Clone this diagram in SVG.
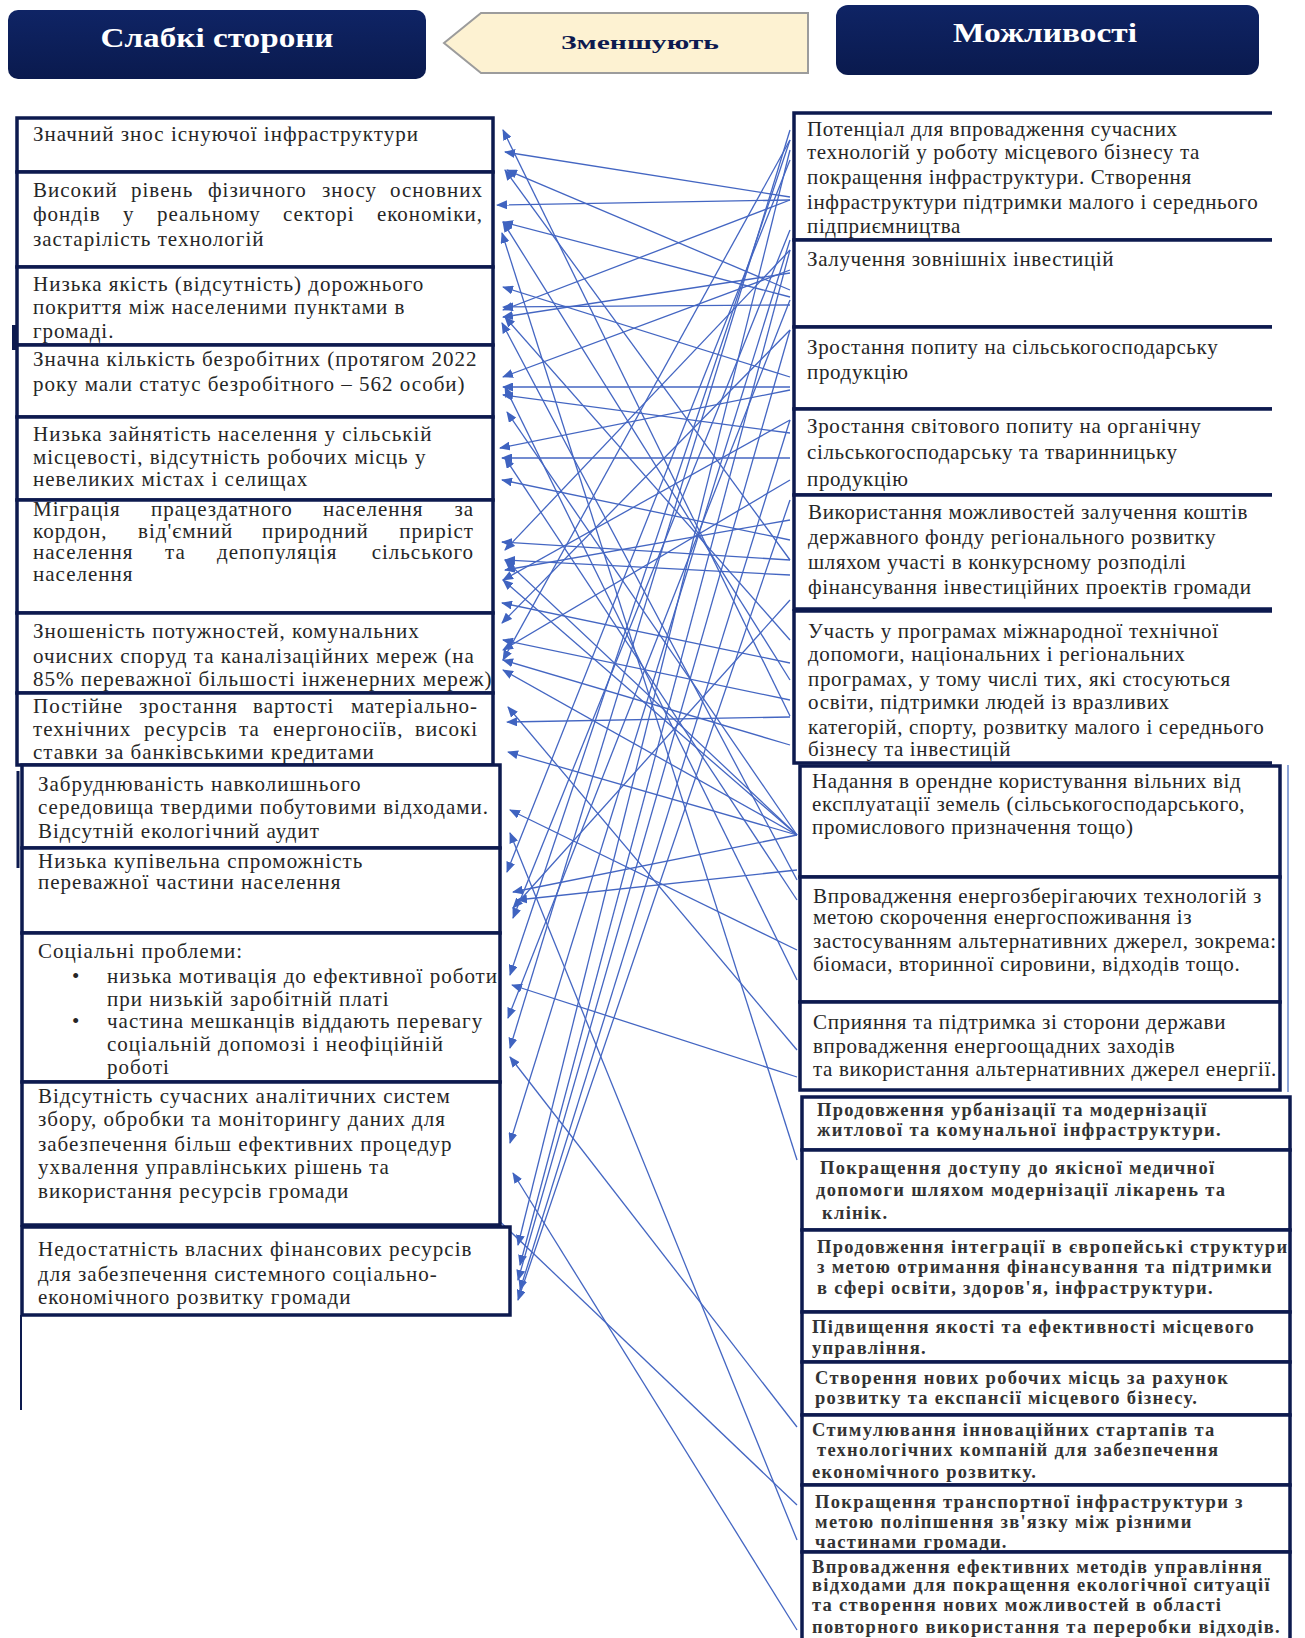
<svg xmlns="http://www.w3.org/2000/svg" width="1305" height="1638" viewBox="0 0 1305 1638">
<defs>
<marker id="ah" markerWidth="11" markerHeight="9" refX="10" refY="4.5" orient="auto" markerUnits="userSpaceOnUse">
<path d="M0,0 L11,4.5 L0,9 z" fill="#3f63c0"/>
</marker>
<linearGradient id="hdr" x1="0" y1="0" x2="0" y2="1">
<stop offset="0" stop-color="#0f2465"/>
<stop offset="1" stop-color="#0a1a4e"/>
</linearGradient>
</defs>
<style>
.t{font-family:"Liberation Serif","Times New Roman",serif;font-size:21px;fill:#262626;letter-spacing:1px}
.r{font-family:"Liberation Serif","Times New Roman",serif;font-size:21px;fill:#262626;letter-spacing:0.65px}
.s{font-family:"Liberation Serif","Times New Roman",serif;font-size:18.5px;font-weight:bold;fill:#333;letter-spacing:1.3px}
.box{fill:#fff;stroke:#0d1a4f;stroke-width:3.5}
.hd{font-family:"Liberation Serif","Times New Roman",serif;font-weight:bold;fill:#fff;font-size:27px}
.conn line{stroke:#4466c2;stroke-width:1.3;marker-end:url(#ah)}
</style>
<rect width="1305" height="1638" fill="#fff"/>

<g id="hdr-weak">
<rect x="8" y="10" width="418" height="69" rx="10" fill="url(#hdr)"/>
<text class="hd" x="217" y="47" text-anchor="middle" textLength="233" lengthAdjust="spacingAndGlyphs">Слабкі сторони</text>
</g>
<g id="hdr-reduce">
<path d="M444,43 L481,13 H808 V73 H481 Z" fill="#fdf2d2" stroke="#9c9c9c" stroke-width="2"/>
<text x="640" y="49" text-anchor="middle" font-family="Liberation Serif, serif" font-weight="bold" font-size="19" fill="#0d1a4f" textLength="158" lengthAdjust="spacingAndGlyphs">Зменшують</text>
</g>
<g id="hdr-opp">
<rect x="836" y="5" width="423" height="70" rx="12" fill="url(#hdr)"/>
<text class="hd" x="1045" y="42" text-anchor="middle" textLength="184" lengthAdjust="spacingAndGlyphs">Можливості</text>
</g>

<g id="connectors" class="conn">
<line x1="790" y1="197" x2="505" y2="152"/>
<line x1="790" y1="290" x2="507" y2="170"/>
<line x1="790" y1="200" x2="497" y2="205"/>
<line x1="790" y1="297" x2="503" y2="222"/>
<line x1="797" y1="1160" x2="502" y2="233"/>
<line x1="790" y1="377" x2="503" y2="287"/>
<line x1="790" y1="200" x2="503" y2="310"/>
<line x1="790" y1="305" x2="503" y2="307"/>
<line x1="790" y1="273" x2="503" y2="317"/>
<line x1="797" y1="880" x2="502" y2="323"/>
<line x1="790" y1="270" x2="503" y2="377"/>
<line x1="790" y1="387" x2="503" y2="387"/>
<line x1="790" y1="433" x2="503" y2="395"/>
<line x1="797" y1="835" x2="507" y2="412"/>
<line x1="790" y1="390" x2="500" y2="448"/>
<line x1="790" y1="458" x2="502" y2="458"/>
<line x1="790" y1="716" x2="503" y2="130"/>
<line x1="790" y1="540" x2="502" y2="480"/>
<line x1="790" y1="560" x2="502" y2="542"/>
<line x1="790" y1="250" x2="505" y2="550"/>
<line x1="790" y1="575" x2="505" y2="560"/>
<line x1="790" y1="520" x2="505" y2="570"/>
<line x1="790" y1="420" x2="503" y2="580"/>
<line x1="790" y1="663" x2="502" y2="603"/>
<line x1="790" y1="330" x2="502" y2="623"/>
<line x1="790" y1="700" x2="503" y2="640"/>
<line x1="790" y1="480" x2="503" y2="650"/>
<line x1="790" y1="140" x2="503" y2="660"/>
<line x1="797" y1="835" x2="503" y2="670"/>
<line x1="797" y1="1050" x2="508" y2="707"/>
<line x1="790" y1="717" x2="507" y2="722"/>
<line x1="797" y1="835" x2="508" y2="752"/>
<line x1="797" y1="950" x2="510" y2="810"/>
<line x1="797" y1="1540" x2="510" y2="833"/>
<line x1="790" y1="160" x2="507" y2="872"/>
<line x1="797" y1="835" x2="513" y2="892"/>
<line x1="797" y1="870" x2="517" y2="900"/>
<line x1="790" y1="600" x2="513" y2="908"/>
<line x1="790" y1="230" x2="513" y2="918"/>
<line x1="790" y1="140" x2="510" y2="975"/>
<line x1="797" y1="1077" x2="512" y2="985"/>
<line x1="790" y1="300" x2="508" y2="1018"/>
<line x1="790" y1="130" x2="510" y2="1048"/>
<line x1="797" y1="1427" x2="510" y2="1057"/>
<line x1="790" y1="240" x2="510" y2="1143"/>
<line x1="797" y1="1630" x2="513" y2="1173"/>
<line x1="797" y1="1505" x2="470" y2="1193"/>
<line x1="790" y1="150" x2="518" y2="1245"/>
<line x1="790" y1="250" x2="520" y2="1265"/>
<line x1="790" y1="330" x2="518" y2="1280"/>
<line x1="790" y1="420" x2="520" y2="1290"/>
<line x1="790" y1="500" x2="518" y2="1300"/>
<line x1="797" y1="835" x2="503" y2="580"/>
<line x1="797" y1="835" x2="505" y2="560"/>
<line x1="797" y1="900" x2="505" y2="458"/>
<line x1="790" y1="640" x2="505" y2="317"/>
<line x1="790" y1="680" x2="503" y2="222"/>
<line x1="797" y1="980" x2="505" y2="387"/>
<line x1="790" y1="560" x2="505" y2="170"/>
<line x1="790" y1="745" x2="503" y2="660"/>
</g>

<g id="w1"><rect class="box" x="17" y="118" width="476" height="54"/>
<text class="t" x="33" y="141">Значний знос існуючої інфраструктури</text></g>
<g id="w2"><rect class="box" x="17" y="172" width="476" height="95"/>
<text class="t" y="197"><tspan x="33">Високий</tspan><tspan x="131">рівень</tspan><tspan x="208">фізичного</tspan><tspan x="322">зносу</tspan><tspan x="483" text-anchor="end">основних</tspan></text>
<text class="t" y="221"><tspan x="33">фондів</tspan><tspan x="123">у</tspan><tspan x="157">реальному</tspan><tspan x="283">секторі</tspan><tspan x="483" text-anchor="end">економіки,</tspan></text>
<text class="t" x="33" y="246">застарілість технологій</text></g>
<g id="w3"><rect class="box" x="17" y="267" width="476" height="78"/>
<text class="t" x="33" y="291">Низька якість (відсутність) дорожнього</text>
<text class="t" x="33" y="314">покриття між населеними пунктами в</text>
<text class="t" x="33" y="338">громаді.</text></g>
<g id="w4"><rect class="box" x="17" y="345" width="476" height="72"/>
<text class="t" x="33" y="366">Значна кількість безробітних (протягом 2022</text>
<text class="t" x="33" y="391">року мали статус безробітного – 562 особи)</text></g>
<g id="w5"><rect class="box" x="17" y="417" width="476" height="83"/>
<text class="t" x="33" y="441">Низька зайнятість населення у сільській</text>
<text class="t" x="33" y="464">місцевості, відсутність робочих місць у</text>
<text class="t" x="33" y="486">невеликих містах і селищах</text></g>
<g id="w6"><rect class="box" x="17" y="500" width="476" height="113"/>
<text class="t" y="516"><tspan x="33">Міграція</tspan><tspan x="151">працездатного</tspan><tspan x="323">населення</tspan><tspan x="474" text-anchor="end">за</tspan></text>
<text class="t" y="538"><tspan x="33">кордон,</tspan><tspan x="138">від'ємний</tspan><tspan x="262">природний</tspan><tspan x="474" text-anchor="end">приріст</tspan></text>
<text class="t" y="559"><tspan x="33">населення</tspan><tspan x="165">та</tspan><tspan x="217">депопуляція</tspan><tspan x="474" text-anchor="end">сільського</tspan></text>
<text class="t" x="33" y="581">населення</text></g>
<g id="w7"><rect class="box" x="17" y="613" width="476" height="80"/>
<text class="t" x="33" y="638">Зношеність потужностей, комунальних</text>
<text class="t" x="33" y="663">очисних споруд та каналізаційних мереж (на</text>
<text class="t" x="33" y="686">85% переважної більшості інженерних мереж)</text></g>
<g id="w8"><rect class="box" x="17" y="693" width="476" height="72"/>
<text class="t" y="713"><tspan x="33">Постійне</tspan><tspan x="139">зростання</tspan><tspan x="253">вартості</tspan><tspan x="478" text-anchor="end">матеріально-</tspan></text>
<text class="t" y="736"><tspan x="33">технічних</tspan><tspan x="144">ресурсів</tspan><tspan x="239">та</tspan><tspan x="273">енергоносіїв,</tspan><tspan x="478" text-anchor="end">високі</tspan></text>
<text class="t" x="33" y="759">ставки за банківськими кредитами</text></g>
<g id="w9"><rect class="box" x="22" y="765" width="478" height="83"/>
<line x1="18" y1="771" x2="18" y2="868" stroke="#0d1a4f" stroke-width="3"/>
<text class="t" x="38" y="791">Забруднюваність навколишнього</text>
<text class="t" x="38" y="814">середовища твердими побутовими відходами.</text>
<text class="t" x="38" y="838">Відсутній екологічний аудит</text></g>
<g id="w10"><rect class="box" x="22" y="848" width="478" height="85"/>
<text class="t" x="38" y="868">Низька купівельна спроможність</text>
<text class="t" x="38" y="889">переважної частини населення</text></g>
<g id="w11"><rect class="box" x="22" y="933" width="478" height="149"/>
<text class="t" x="38" y="958">Соціальні проблеми:</text>
<text class="t" x="72" y="983">•</text>
<text class="t" x="107" y="983">низька мотивація до ефективної роботи</text>
<text class="t" x="107" y="1006">при низькій заробітній платі</text>
<text class="t" x="72" y="1028">•</text>
<text class="t" x="107" y="1028">частина мешканців віддають перевагу</text>
<text class="t" x="107" y="1051">соціальній допомозі і неофіційній</text>
<text class="t" x="107" y="1074">роботі</text></g>
<g id="w12"><rect class="box" x="22" y="1082" width="478" height="143"/>
<text class="t" x="38" y="1103">Відсутність сучасних аналітичних систем</text>
<text class="t" x="38" y="1126">збору, обробки та моніторингу даних для</text>
<text class="t" x="38" y="1151">забезпечення більш ефективних процедур</text>
<text class="t" x="38" y="1174">ухвалення управлінських рішень та</text>
<text class="t" x="38" y="1198">використання ресурсів громади</text></g>
<g id="w13"><rect class="box" x="22" y="1227" width="488" height="88"/>
<text class="t" x="38" y="1256">Недостатність власних  фінансових ресурсів</text>
<text class="t" x="38" y="1281">для забезпечення системного соціально-</text>
<text class="t" x="38" y="1304">економічного розвитку громади</text></g>
<line x1="21" y1="1315" x2="21" y2="1410" stroke="#0d1a4f" stroke-width="2"/>
<line x1="14" y1="325" x2="14" y2="350" stroke="#0d1a4f" stroke-width="4"/>

<g id="o1"><path class="box" d="M1272,113 H794 V240 H1272"/>
<text class="r" x="807" y="136">Потенціал для впровадження сучасних</text>
<text class="r" x="807" y="159">технологій у роботу місцевого бізнесу та</text>
<text class="r" x="807" y="184">покращення інфраструктури. Створення</text>
<text class="r" x="807" y="209">інфраструктури підтримки малого і середнього</text>
<text class="r" x="807" y="233">підприємництва</text></g>
<g id="o2"><path class="box" d="M1272,240 H794 V327 H1272"/>
<text class="r" x="807" y="266">Залучення зовнішніх інвестицій</text></g>
<g id="o3"><path class="box" d="M1272,327 H794 V409 H1272"/>
<text class="r" x="807" y="354">Зростання попиту на сільськогосподарську</text>
<text class="r" x="807" y="379">продукцію</text></g>
<g id="o4"><path class="box" d="M1272,409 H794 V495 H1272"/>
<text class="r" x="807" y="433">Зростання світового попиту на органічну</text>
<text class="r" x="807" y="459">сільськогосподарську та тваринницьку</text>
<text class="r" x="807" y="486">продукцію</text></g>
<g id="o5"><path class="box" d="M1272,495 H794 V609 H1272"/>
<text class="r" x="808" y="519">Використання можливостей залучення коштів</text>
<text class="r" x="808" y="544">державного фонду регіонального розвитку</text>
<text class="r" x="808" y="569">шляхом участі в конкурсному розподілі</text>
<text class="r" x="808" y="594">фінансування інвестиційних проектів громади</text></g>
<g id="o6"><path class="box" d="M1272,611 H794 V763 H1272"/>
<text class="r" x="808" y="638">Участь у програмах міжнародної технічної</text>
<text class="r" x="808" y="661">допомоги, національних і регіональних</text>
<text class="r" x="808" y="686">програмах, у тому числі тих, які стосуються</text>
<text class="r" x="808" y="709">освіти, підтримки людей із вразливих</text>
<text class="r" x="808" y="734">категорій, спорту, розвитку малого і середнього</text>
<text class="r" x="808" y="756">бізнесу та інвестицій</text></g>
<line x1="1288" y1="765" x2="1288" y2="1092" stroke="#8fa6d8" stroke-width="2"/>
<g id="o7"><rect class="box" x="800" y="766" width="480" height="111"/>
<text class="r" x="812" y="788">Надання в орендне користування вільних від</text>
<text class="r" x="812" y="811">експлуатації земель (сільськогосподарського,</text>
<text class="r" x="812" y="834">промислового призначення тощо)</text></g>
<g id="o8"><rect class="box" x="800" y="877" width="480" height="125"/>
<text class="r" x="813" y="903">Впровадження енергозберігаючих технологій з</text>
<text class="r" x="813" y="924">метою скорочення енергоспоживання із</text>
<text class="r" x="813" y="948">застосуванням альтернативних джерел, зокрема:</text>
<text class="r" x="813" y="971">біомаси, вторинної сировини, відходів тощо.</text></g>
<g id="o9"><rect class="box" x="800" y="1002" width="480" height="88"/>
<text class="r" x="813" y="1029">Сприяння та підтримка зі сторони держави</text>
<text class="r" x="813" y="1053">впровадження енергоощадних заходів</text>
<text class="r" x="813" y="1076">та використання альтернативних джерел енергії.</text></g>
<g id="o10"><rect class="box" x="802" y="1097" width="488" height="53"/>
<text class="s" x="817" y="1116">Продовження урбанізації та модернізації</text>
<text class="s" x="817" y="1136">житлової та комунальної інфраструктури.</text></g>
<g id="o11"><rect class="box" x="802" y="1150" width="488" height="80"/>
<text class="s" x="820" y="1174">Покращення доступу до якісної медичної</text>
<text class="s" x="816" y="1196">допомоги шляхом модернізації лікарень та</text>
<text class="s" x="822" y="1219">клінік.</text></g>
<g id="o12"><rect class="box" x="802" y="1230" width="488" height="82"/>
<text class="s" x="817" y="1253">Продовження інтеграції в європейські структури</text>
<text class="s" x="817" y="1273">з метою отримання фінансування та підтримки</text>
<text class="s" x="817" y="1294">в сфері освіти, здоров'я, інфраструктури.</text></g>
<g id="o13"><rect class="box" x="802" y="1312" width="488" height="50"/>
<text class="s" x="812" y="1333">Підвищення якості та ефективності місцевого</text>
<text class="s" x="812" y="1354">управління.</text></g>
<g id="o14"><rect class="box" x="802" y="1362" width="488" height="53"/>
<text class="s" x="815" y="1384">Створення нових робочих місць за рахунок</text>
<text class="s" x="815" y="1404">розвитку та експансії місцевого бізнесу.</text></g>
<g id="o15"><rect class="box" x="802" y="1415" width="488" height="70"/>
<text class="s" x="812" y="1436">Стимулювання інноваційних стартапів та</text>
<text class="s" x="817" y="1456">технологічних компаній для забезпечення</text>
<text class="s" x="812" y="1478">економічного розвитку.</text></g>
<g id="o16"><rect class="box" x="802" y="1485" width="488" height="67"/>
<text class="s" x="815" y="1508">Покращення транспортної інфраструктури з</text>
<text class="s" x="815" y="1528">метою поліпшення зв'язку між різними</text>
<text class="s" x="815" y="1548">частинами громади.</text></g>
<g id="o17"><rect class="box" x="802" y="1552" width="488" height="95"/>
<text class="s" x="812" y="1573">Впровадження ефективних методів управління</text>
<text class="s" x="812" y="1591">відходами для покращення екологічної ситуації</text>
<text class="s" x="812" y="1611">та створення нових можливостей в області</text>
<text class="s" x="812" y="1633">повторного використання та переробки відходів.</text></g>
</svg>
